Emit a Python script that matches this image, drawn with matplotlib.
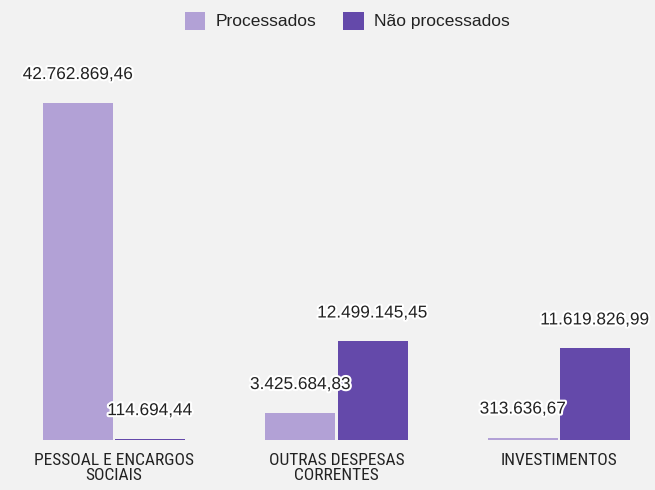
import matplotlib.pyplot as plt
import matplotlib.patheffects as pe
import numpy as np

categorias = ["PESSOAL E ENCARGOS\nSOCIAIS", "OUTRAS DESPESAS\nCORRENTES", "INVESTIMENTOS"]
processados = [42762869.46, 3425684.83, 313636.67]
nao_processados = [114694.44, 12499145.45, 11619826.99]
series = ["Processados", "Não processados"]

cor_proc = "#b2a1d6"
cor_nao = "#6449aa"
fundo = "#f2f2f2"
texto = "#222222"

def fmt(v):
    s = f"{v:,.2f}"
    return s.replace(",", "X").replace(".", ",").replace("X", ".")

fig = plt.figure(figsize=(6.55, 4.9), dpi=100, facecolor=fundo)
ax = fig.add_axes([0, 50 / 490, 1, 380 / 490])
ax.set_facecolor(fundo)

x = np.arange(len(categorias))
larg = 0.315
desl = 0.162
b1 = ax.bar(x - desl, processados, larg, color=cor_proc, label=series[0])
b2 = ax.bar(x + desl, nao_processados, larg, color=cor_nao, label=series[1])

ax.set_xlim(-114 / 222.5, 2 + 96 / 222.5)
ax.set_ylim(0, max(processados) * 380 / 337)

halo = [pe.withStroke(linewidth=3, foreground="white")]
for barras, vals in [(b1, processados), (b2, nao_processados)]:
    for b, v in zip(barras, vals):
        ax.annotate(fmt(v), (b.get_x() + b.get_width() / 2, v),
                    xytext=(0, 20.5), textcoords="offset points",
                    ha="center", va="center", fontsize=12.4, color=texto,
                    family=["Liberation Sans", "DejaVu Sans"], path_effects=halo)

# rótulos das categorias em fonte condensada
ax.set_xticks(x)
ax.set_xticklabels(categorias, fontsize=12.5, color=texto, linespacing=1.0,
                   family=["Roboto Condensed", "Liberation Sans", "DejaVu Sans"])
ax.tick_params(axis="x", length=0, pad=9)
ax.set_yticks([])
for s in ax.spines.values():
    s.set_visible(False)

fig.legend(loc="upper center", bbox_to_anchor=(0.53, 1.008), ncol=2, frameon=False,
           prop={"family": ["Liberation Sans", "DejaVu Sans"], "size": 12.5},
           labelcolor=texto, handlelength=1.2, handleheight=1.2,
           handletextpad=0.6, columnspacing=1.5)

fig.savefig("out.png", dpi=100, facecolor=fundo)
